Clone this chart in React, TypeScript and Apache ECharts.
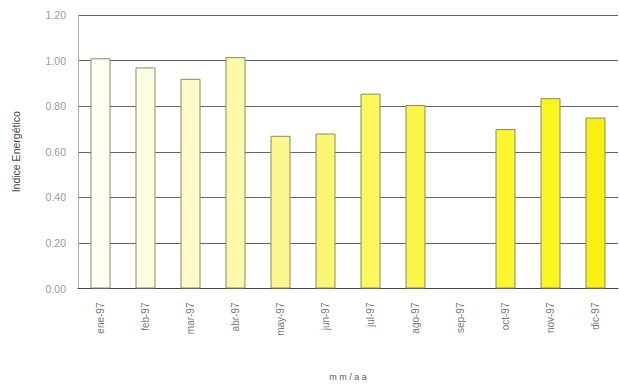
import React, { useEffect, useRef } from "react";
import * as echarts from "echarts";

const categories = ["ene-97", "feb-97", "mar-97", "abr-97", "may-97", "jun-97", "jul-97", "ago-97", "sep-97", "oct-97", "nov-97", "dic-97"];
const values: (number | null)[] = [1.01, 0.97, 0.92, 1.015, 0.67, 0.68, 0.855, 0.805, null, 0.70, 0.835, 0.75];
const barColors = ["#FFFFF4", "#FEFDE2", "#FDFBCA", "#FCF9AA", "#FBF68E", "#FAF572", "#FBF75C", "#FAF548", "#FAF53A", "#FBF630", "#FAF420", "#F8F010"];
const yTicks = [0, 0.2, 0.4, 0.6, 0.8, 1.0, 1.2];

export default function App() {
  const ref = useRef<HTMLDivElement>(null);
  useEffect(() => {
    if (!ref.current) return;
    const chart = echarts.init(ref.current, undefined, { renderer: "svg" });
    chart.setOption({
      animation: false,
      backgroundColor: "#ffffff",
      textStyle: { fontFamily: "Liberation Sans, Arial, sans-serif" },
      grid: { left: 78, right: 1, top: 15, bottom: 100.5, containLabel: false },
      xAxis: {
        type: "category",
        data: categories,
        name: "m m / a a",
        nameLocation: "middle",
        nameGap: 84,
        nameTextStyle: { fontSize: 9, color: "#555" },
        axisLine: { show: true, lineStyle: { color: "#444", width: 1 } },
        axisTick: { show: false },
        axisLabel: { rotate: 90, fontSize: 10, color: "#777", margin: 14 },
      },
      yAxis: {
        type: "value",
        min: 0,
        max: 1.2,
        interval: 0.2,
        name: "Indice Energético",
        nameLocation: "middle",
        nameGap: 57,
        nameTextStyle: { fontSize: 10.5, color: "#444" },
        axisLine: { show: true, lineStyle: { color: "#aaa", width: 1 } },
        axisTick: { show: false },
        axisLabel: {
          fontSize: 10.5,
          color: "#999",
          margin: 12,
          formatter: (v: number) => (yTicks.includes(Math.round(v * 10) / 10) ? v.toFixed(2) : ""),
        },
        splitLine: { show: true, lineStyle: { color: "#666", width: 1 } },
      },
      series: [
        {
          type: "bar",
          barWidth: 20,
          data: values.map((v, i) => ({
            value: v,
            itemStyle: { color: barColors[i], borderColor: "#8a8a60", borderWidth: 1 },
          })),
        },
      ],
    });
    return () => chart.dispose();
  }, []);
  return <div ref={ref} style={{ position: "absolute", left: 0, top: 0, width: 619, height: 389 }} />;
}
